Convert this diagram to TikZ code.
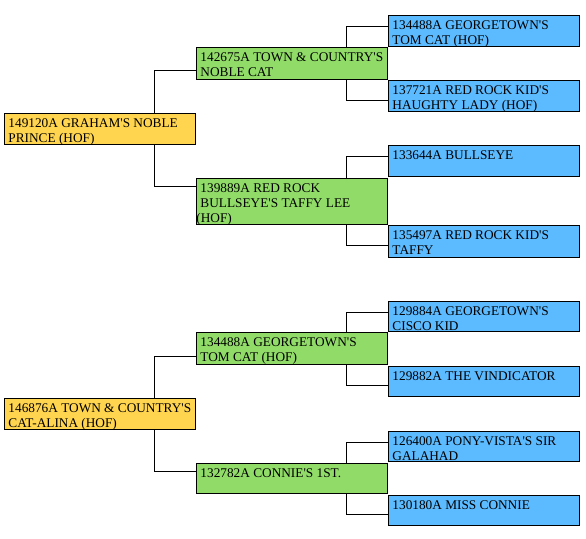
\documentclass[tikz,border=0pt]{standalone}
\usepackage{fontspec}
\setmainfont{Liberation Serif}[Ligatures=TeXOff]
\definecolor{yel}{RGB}{255,213,80}
\definecolor{grn}{RGB}{145,220,105}
\definecolor{blu}{RGB}{92,186,255}
\newcommand{\pedtxt}[2]{\parbox[t][#1][t]{183pt}{\rule{0pt}{12pt}#2}}
\tikzset{
  cell/.style={draw=black, line width=0.9pt, rectangle, anchor=north west,
    inner xsep=4pt, inner ysep=2pt, font=\fontsize{13.3}{15}\selectfont},
  ycell/.style={cell, fill=yel},
  gcell/.style={cell, fill=grn},
  bcell/.style={cell, fill=blu},
  link/.style={draw=black, line width=0.9pt}
}
\begin{document}
\begin{tikzpicture}[x=1pt,y=-1pt]
\useasboundingbox (0,0) rectangle (586,538);
% top pedigree
\node[ycell] (y1) at (4,113) {\pedtxt{27pt}{149120A GRAHAM'S NOBLE\\PRINCE (HOF)}};
\node[gcell] (g1) at (196,47) {\pedtxt{28pt}{142675A TOWN \& COUNTRY'S\\NOBLE CAT}};
\node[gcell] (g2) at (196,178) {\pedtxt{42pt}{139889A RED ROCK\\BULLSEYE'S TAFFY LEE\\\hspace*{-4pt}(HOF)}};
\node[bcell] (b1) at (388,15) {\pedtxt{27pt}{134488A GEORGETOWN'S\\TOM CAT (HOF)}};
\node[bcell] (b2) at (388,80) {\pedtxt{27pt}{137721A RED ROCK KID'S\\HAUGHTY LADY (HOF)}};
\node[bcell] (b3) at (388,145) {\pedtxt{27pt}{133644A BULLSEYE}};
\node[bcell] (b4) at (388,225) {\pedtxt{28pt}{135497A RED ROCK KID'S\\TAFFY}};
% bottom pedigree
\node[ycell] (y2) at (4,398) {\pedtxt{27pt}{146876A TOWN \& COUNTRY'S\\CAT-ALINA (HOF)}};
\node[gcell] (g3) at (196,332) {\pedtxt{28pt}{134488A GEORGETOWN'S\\TOM CAT (HOF)}};
\node[gcell] (g4) at (196,463) {\pedtxt{26pt}{132782A CONNIE'S 1ST.}};
\node[bcell] (b5) at (388,301) {\pedtxt{26pt}{129884A GEORGETOWN'S\\CISCO KID}};
\node[bcell] (b6) at (388,366) {\pedtxt{26pt}{129882A THE VINDICATOR}};
\node[bcell] (b7) at (388,431) {\pedtxt{26pt}{126400A PONY-VISTA'S SIR\\GALAHAD}};
\node[bcell] (b8) at (388,495) {\pedtxt{26pt}{130180A MISS CONNIE}};
% connectors
\draw[link] ([xshift=150pt]y1.north west) |- ([yshift=9pt]g1.south west);
\draw[link] ([xshift=150pt]y1.south west) |- ([yshift=-8pt]g2.north west);
\draw[link] ([xshift=150pt]g1.north west) |- ([yshift=-11pt]b1.north west);
\draw[link] ([xshift=150pt]g1.south west) |- ([yshift=11pt]b2.south west);
\draw[link] ([xshift=150pt]g2.north west) |- ([yshift=-11pt]b3.north west);
\draw[link] ([xshift=150pt]g2.south west) |- ([yshift=12pt]b4.south west);
\draw[link] ([xshift=150pt]y2.north west) |- ([yshift=8pt]g3.south west);
\draw[link] ([xshift=150pt]y2.south west) |- ([yshift=-8pt]g4.north west);
\draw[link] ([xshift=150pt]g3.north west) |- ([yshift=-11pt]b5.north west);
\draw[link] ([xshift=150pt]g3.south west) |- ([yshift=11pt]b6.south west);
\draw[link] ([xshift=150pt]g4.north west) |- ([yshift=-11pt]b7.north west);
\draw[link] ([xshift=150pt]g4.south west) |- ([yshift=11pt]b8.south west);
\end{tikzpicture}
\end{document}
